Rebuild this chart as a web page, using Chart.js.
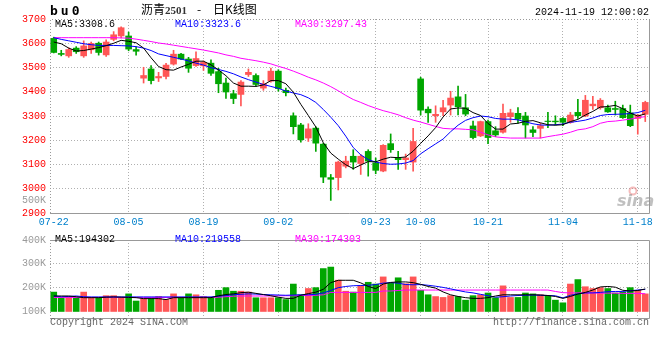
<!DOCTYPE html>
<html>
<head>
<meta charset="utf-8">
<script src="https://cdn.jsdelivr.net/npm/chart.js@4.4.1/dist/chart.umd.min.js"></script>
<style>
html, body { margin: 0; padding: 0; background: #fff; }
#wrap { position: relative; width: 660px; height: 360px; }
canvas { position: absolute; left: 0; }
#kline { top: 0; }
#vol { top: 230px; }
</style>
</head>
<body>
<div id="wrap">
<canvas id="kline" width="660" height="230" style="width:660px;height:230px"></canvas>
<canvas id="vol" width="660" height="130" style="width:660px;height:130px"></canvas>
</div>
<script>
// trading days 2024-07-22 .. 2024-11-19
const dates = ['07-22','07-23','07-24','07-25','07-26','07-29','07-30','07-31',
  '08-01','08-02','08-05','08-06','08-07','08-08','08-09','08-12','08-13','08-14','08-15','08-16',
  '08-19','08-20','08-21','08-22','08-23','08-26','08-27','08-28','08-29','08-30',
  '09-02','09-03','09-04','09-05','09-06','09-09','09-10','09-11','09-12','09-13',
  '09-18','09-19','09-20','09-23','09-24','09-25','09-26','09-27','09-30',
  '10-08','10-09','10-10','10-11','10-14','10-15','10-16','10-17','10-18','10-21','10-22',
  '10-23','10-24','10-25','10-28','10-29','10-30','10-31',
  '11-01','11-04','11-05','11-06','11-07','11-08','11-11','11-12','11-13','11-14','11-15','11-18','11-19'];
const tickDates = ['07-22','08-05','08-19','09-02','09-23','10-08','10-21','11-04','11-18'];

const opens = [3620,3558,3548,3580,3548,3573,3600,3552,3616,3630,
  3630,3574,3456,3494,3457,3463,3514,3555,3535,3508,
  3507,3518,3483,3436,3392,3389,3471,3467,3415,3444,
  3485,3406,3301,3263,3209,3250,3184,3046,3046,3093,
  3134,3104,3154,3107,3073,3186,3127,3120,3110,3453,
  3328,3301,3317,3345,3379,3334,3259,3218,3277,3239,
  3233,3297,3311,3300,3243,3249,3279,3279,3290,3274,
  3315,3300,3342,3334,3334,3331,3331,3313,3290,3307];
const closes = [3562,3554,3574,3565,3589,3599,3562,3605,3635,3664,
  3576,3567,3467,3446,3463,3510,3555,3535,3497,3537,
  3521,3476,3433,3399,3372,3440,3480,3430,3433,3485,
  3413,3396,3256,3202,3247,3188,3048,3039,3110,3114,
  3110,3134,3114,3076,3179,3161,3120,3127,3195,3324,
  3313,3307,3334,3374,3338,3308,3211,3277,3211,3222,
  3311,3313,3287,3263,3232,3260,3277,3276,3274,3304,
  3301,3365,3349,3365,3317,3327,3293,3260,3304,3356];
const highs = [3625,3571,3581,3586,3610,3605,3605,3614,3648,3668,
  3646,3585,3501,3508,3480,3517,3571,3558,3542,3565,
  3527,3532,3497,3456,3406,3446,3494,3474,3446,3498,
  3491,3415,3313,3270,3268,3256,3188,3059,3114,3134,
  3161,3141,3161,3127,3182,3226,3154,3143,3249,3460,
  3338,3342,3365,3402,3423,3389,3279,3279,3283,3256,
  3349,3328,3335,3315,3256,3270,3315,3301,3293,3315,
  3369,3385,3381,3372,3345,3361,3345,3345,3307,3361];
const lows = [3560,3548,3542,3558,3542,3558,3551,3546,3610,3622,
  3569,3551,3436,3432,3442,3453,3510,3532,3480,3504,
  3488,3467,3396,3372,3351,3342,3463,3423,3406,3440,
  3402,3383,3226,3192,3195,3154,3025,2952,2995,3086,
  3080,3059,3052,3062,3070,3150,3080,3080,3073,3304,
  3274,3274,3301,3304,3304,3301,3206,3215,3186,3215,
  3229,3274,3270,3209,3215,3209,3252,3263,3260,3270,
  3290,3297,3327,3328,3315,3304,3290,3256,3225,3277];

const ma5 = [3605,3598,3580,3568,3570,3576,3582,3590,3600,3612,
  3608,3602,3580,3540,3504,3491,3489,3502,3513,3526,
  3526,3511,3490,3466,3436,3423,3423,3422,3428,3446,
  3446,3433,3398,3348,3302,3255,3190,3147,3122,3099,
  3083,3098,3112,3111,3122,3130,3128,3131,3155,3187,
  3218,3252,3296,3329,3333,3332,3314,3302,3269,3246,
  3246,3267,3270,3278,3281,3272,3264,3262,3264,3277,
  3286,3304,3319,3337,3339,3344,3330,3312,3300,3308.6];
const ma10 = [3623,3616,3610,3604,3598,3594,3591,3591,3591,3590,
  3589,3586,3580,3570,3556,3549,3542,3535,3527,3518,
  3510,3499,3492,3484,3474,3461,3450,3440,3430,3422,
  3414,3403,3395,3388,3375,3356,3327,3295,3260,3217,
  3170,3140,3120,3110,3104,3101,3102,3106,3116,3144,
  3165,3185,3205,3235,3262,3282,3293,3300,3297,3290,
  3287,3287,3284,3276,3268,3263,3262,3264,3267,3274,
  3278,3283,3292,3302,3306,3307,3308,3310,3314,3323.6];
const ma30 = [3623,3623,3623,3623,3623,3623,3623,3623,3623,3622,
  3621,3617,3612,3607,3601,3597,3592,3587,3582,3577,
  3572,3566,3560,3552,3546,3538,3533,3528,3522,3515,
  3505,3496,3485,3473,3460,3449,3436,3421,3404,3385,
  3368,3356,3343,3332,3322,3314,3305,3293,3283,3275,
  3266,3257,3249,3247,3247,3245,3243,3233,3222,3214,
  3211,3209,3209,3209,3209,3209,3215,3220,3225,3233,
  3243,3247,3256,3270,3277,3279,3283,3287,3293,3297.43];

const volumes = [181400,157600,162600,157600,181400,157600,157600,166400,166400,157600,
  173900,143900,153900,153900,162600,150100,173900,157600,173900,170100,
  162600,157600,188900,200100,185100,185100,181400,157600,157600,157600,
  157600,150100,215100,170100,196400,200100,280100,286400,231400,185100,
  181400,208900,222600,215100,245100,218900,241400,216400,245100,188900,
  170100,162600,158900,166400,162600,147600,166400,170100,177600,157600,
  207600,158900,158900,177600,173900,170100,166400,147600,136400,215100,
  233900,203900,196400,200100,196400,177600,181400,200100,188900,173900];
const volMa5 = [165000,165000,165000,162000,158000,158000,158000,160000,161000,160000,
  159000,158000,154000,154000,154000,150000,158000,158000,158000,158000,
  158000,158000,166000,171000,174000,179000,181000,176000,171000,166000,
  160000,155000,155000,168000,175000,181000,193000,221000,231000,231000,
  231000,220000,205000,196000,215000,222000,224000,224000,221000,214000,
  205000,198000,182000,170000,163000,158000,155000,155000,158000,165000,
  170000,170000,170000,170000,170000,169000,167000,163000,155000,163000,
  173000,180000,190000,203000,205000,202000,189000,186000,188000,194302];
const volMa10 = [165000,162000,163000,165000,162000,161000,161000,161000,161000,161000,
  161000,161000,161000,161000,161000,161000,161000,161000,161000,161000,
  161000,161000,164000,167000,170500,172000,174000,173000,171000,170000,
  169000,168000,169000,170000,170000,172000,178000,188000,200000,205000,
  208000,209000,210000,213000,219000,221000,219000,213000,212000,213000,
  210000,206000,201000,195000,188000,182000,178000,172000,166000,160000,
  162000,165000,167000,168000,169000,168000,167000,166000,157000,168000,
  174000,178000,178000,180000,183000,184000,184000,187000,190000,193000];
const volMa30 = [159000,159000,159000,159000,159000,159000,159000,159000,159000,159000,
  159000,159000,159000,159000,159000,159000,159000,159000,159000,159000,
  159000,159000,160000,162000,164000,165000,165000,165000,165000,165000,
  166000,166000,166000,167000,167000,168000,170000,180000,180000,180000,
  180000,180000,180000,180000,186000,186000,188000,190000,190000,190000,
  190000,190000,190000,190000,190000,190000,190000,190000,190000,190000,
  190000,190000,190000,190000,190000,190000,190000,184000,179000,178000,
  178000,178000,178000,177000,177000,177000,176000,176000,176000,174303];

const RED = '#ff5656';
const GREEN = '#00a600';
const MONO = '"Liberation Mono", "DejaVu Sans Mono", monospace';
const candleColors = closes.map((c, i) => c >= opens[i] ? RED : GREEN);
const VOL_BASE = 100000;

Chart.defaults.font.family = MONO;
Chart.defaults.font.size = 10;

function dateGrid(ctx) {
    return ctx.index > 0 && tickDates.includes(dates[ctx.index]) ? '#b0b0b0' : 'rgba(0,0,0,0)';
}

function lineSet(label, data, color) {
    return {
        type: 'line', label: label, data: data,
        borderColor: color, borderWidth: 1, pointRadius: 0, tension: 0, order: 0
    };
}

const mainTexts = {
    id: 'mainTexts',
    afterDraw(chart) {
        const { ctx, chartArea: a } = chart;
        ctx.save();
        // frame
        ctx.lineWidth = 1;
        ctx.strokeStyle = '#999';
        ctx.beginPath();
        ctx.moveTo(a.right + 0.5, a.top);
        ctx.lineTo(a.right + 0.5, a.bottom + 0.5);
        ctx.lineTo(a.left, a.bottom + 0.5);
        ctx.stroke();
        ctx.setLineDash([1, 2]);
        ctx.beginPath();
        ctx.moveTo(a.left + 0.5, a.bottom);
        ctx.lineTo(a.left + 0.5, a.top + 0.5);
        ctx.lineTo(a.right, a.top + 0.5);
        ctx.stroke();
        ctx.setLineDash([]);

        ctx.textBaseline = 'alphabetic';
        ctx.textAlign = 'left';
        // code
        ctx.fillStyle = '#000';
        ctx.font = 'bold 13px "DejaVu Sans Mono"';
        ctx.letterSpacing = '3px';
        ctx.fillText('bu0', 50, 15);
        ctx.letterSpacing = '0px';
        // title
        ctx.font = '12px "Noto Sans CJK SC"';
        ctx.fillText('沥青', 141, 14);
        ctx.fillStyle = '#333';
        ctx.font = 'bold 11px "Liberation Serif"';
        ctx.fillText('2501', 165, 14);
        ctx.fillStyle = '#000';
        ctx.font = '12px "Noto Sans CJK SC"';
        ctx.fillText('-', 197, 14);
        ctx.fillText('日K线图', 213, 14);
        // time
        ctx.font = '10px ' + MONO;
        ctx.textAlign = 'right';
        ctx.fillText('2024-11-19 12:00:02', 649, 15);
        // legend
        ctx.textAlign = 'left';
        ctx.fillStyle = '#000';
        ctx.fillText('MA5:3308.6', 55, 27);
        ctx.fillStyle = '#0000ff';
        ctx.fillText('MA10:3323.6', 175, 27);
        ctx.fillStyle = '#ff00ff';
        ctx.fillText('MA30:3297.43', 295, 27);
        // stray volume label
        ctx.fillStyle = '#999';
        ctx.textAlign = 'right';
        ctx.textBaseline = 'middle';
        ctx.fillText('500K', 46, 200);
        // watermark
        ctx.textAlign = 'left';
        ctx.textBaseline = 'alphabetic';
        ctx.strokeStyle = 'rgba(235,120,120,0.5)';
        ctx.lineWidth = 2;
        ctx.beginPath();
        ctx.arc(633, 191, 3.5, 0, Math.PI * 2);
        ctx.stroke();
        ctx.fillStyle = 'rgba(150,150,150,0.6)';
        ctx.font = 'italic bold 16px "DejaVu Sans"';
        ctx.fillText('sina', 617, 206);
        ctx.restore();
    }
};

const volTexts = {
    id: 'volTexts',
    afterDraw(chart) {
        const { ctx, chartArea: a } = chart;
        ctx.save();
        ctx.lineWidth = 1;
        ctx.strokeStyle = '#999';
        ctx.beginPath();
        ctx.moveTo(a.left, a.top + 0.5);
        ctx.lineTo(a.right + 0.5, a.top + 0.5);
        ctx.lineTo(a.right + 0.5, a.bottom + 0.5);
        ctx.lineTo(a.left, a.bottom + 0.5);
        ctx.stroke();
        ctx.setLineDash([1, 2]);
        ctx.beginPath();
        ctx.moveTo(a.left + 0.5, a.top);
        ctx.lineTo(a.left + 0.5, a.bottom);
        ctx.stroke();
        ctx.setLineDash([]);

        ctx.font = '10px ' + MONO;
        ctx.textBaseline = 'alphabetic';
        ctx.textAlign = 'left';
        ctx.fillStyle = '#000';
        ctx.fillText('MA5:194302', 55, 12);
        ctx.fillStyle = '#0000ff';
        ctx.fillText('MA10:219558', 175, 12);
        ctx.fillStyle = '#ff00ff';
        ctx.fillText('MA30:174303', 295, 12);
        ctx.fillStyle = '#666';
        ctx.fillText('Copyright 2024 SINA.COM', 50, 95);
        ctx.textAlign = 'right';
        ctx.fillText('http://finance.sina.com.cn', 649, 95);
        ctx.restore();
    }
};

const kChart = new Chart(document.getElementById('kline'), {
    type: 'bar',
    data: {
        labels: dates,
        datasets: [
            lineSet('MA5', ma5, '#000000'),
            lineSet('MA10', ma10, '#0000ff'),
            lineSet('MA30', ma30, '#ff00ff'),
            {
                label: 'body', data: opens.map((o, i) => [o, closes[i]]),
                backgroundColor: candleColors, barThickness: 6, grouped: false, order: 1
            },
            {
                label: 'wick', data: lows.map((l, i) => [l, highs[i]]),
                backgroundColor: candleColors, barThickness: 1, grouped: false, order: 2
            }
        ]
    },
    options: {
        responsive: false,
        animation: false,
        devicePixelRatio: 1,
        events: [],
        layout: { padding: { left: 0, right: 11, top: 19, bottom: 0 } },
        plugins: { legend: { display: false }, tooltip: { enabled: false } },
        scales: {
            x: {
                type: 'category',
                offset: true,
                grid: { offset: false, drawTicks: false, color: dateGrid },
                border: { display: false, dash: [1, 2] },
                ticks: {
                    autoSkip: false, maxRotation: 0, minRotation: 0, padding: 3,
                    color: '#0080cc',
                    callback: (v, i) => tickDates.includes(dates[i]) ? dates[i] : ''
                },
                afterFit: (s) => { s.height = 17; }
            },
            y: {
                min: 2900, max: 3700,
                ticks: { stepSize: 100, color: '#ff0000', padding: 4, callback: (v) => String(v) },
                grid: {
                    drawTicks: false,
                    color: (c) => (c.tick.value > 2900 && c.tick.value < 3700) ? '#b0b0b0' : 'rgba(0,0,0,0)'
                },
                border: { display: false, dash: [1, 2] },
                afterFit: (s) => { s.width = 50; }
            }
        }
    },
    plugins: [mainTexts]
});

const vChart = new Chart(document.getElementById('vol'), {
    type: 'bar',
    data: {
        labels: dates,
        datasets: [
            lineSet('MA5', volMa5, '#000000'),
            lineSet('MA10', volMa10, '#0000ff'),
            lineSet('MA30', volMa30, '#ff00ff'),
            {
                label: 'volume', data: volumes.map(v => [VOL_BASE, v]),
                backgroundColor: candleColors, barThickness: 6, grouped: false, order: 1
            }
        ]
    },
    options: {
        responsive: false,
        animation: false,
        devicePixelRatio: 1,
        events: [],
        layout: { padding: { left: 0, right: 11, top: 1, bottom: 0 } },
        plugins: { legend: { display: false }, tooltip: { enabled: false } },
        scales: {
            x: {
                type: 'category',
                offset: true,
                grid: { offset: false, drawTicks: false, color: dateGrid },
                border: { display: false, dash: [1, 2] },
                ticks: { display: false },
                afterFit: (s) => { s.height = 42; }
            },
            y: {
                min: 72625, max: 400000,
                afterBuildTicks: (s) => { s.ticks = [100000, 200000, 300000, 400000].map(v => ({ value: v })); },
                ticks: { color: '#999', padding: 4, callback: (v) => (v / 1000) + 'K' },
                grid: {
                    drawTicks: false,
                    color: (c) => (c.tick.value === 200000 || c.tick.value === 300000) ? '#b0b0b0' : 'rgba(0,0,0,0)'
                },
                border: { display: false, dash: [1, 2] },
                afterFit: (s) => { s.width = 50; }
            }
        }
    },
    plugins: [volTexts]
});
</script>
</body>
</html>
